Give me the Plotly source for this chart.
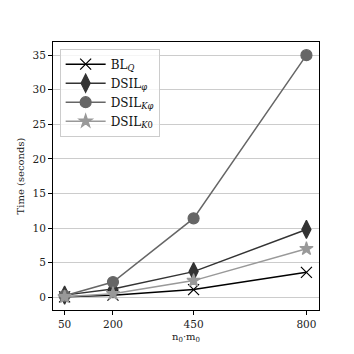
import plotly.graph_objs as go

# values
sizes = [50, 200, 450, 800]
bl_q = [0.05, 0.3, 1.1, 3.6]
dsil_phi = [0.3, 1.2, 3.7, 9.8]
dsil_kphi = [0.2, 2.2, 11.4, 35.0]
dsil_k0 = [0.05, 0.5, 2.4, 7.0]

series = [
    ("BL<sub><i>Q</i></sub>", bl_q, "#000000", "x-thin", 11),
    ("DSIL<sub><i>φ</i></sub>", dsil_phi, "#333333", "diamond-tall", 13),
    ("DSIL<sub><i>Kφ</i></sub>", dsil_kphi, "#666666", "circle", 11),
    ("DSIL<sub><i>K</i>0</sub>", dsil_k0, "#999999", "star", 10),
]

fig = go.Figure()
for name, vals, col, sym, sz in series:
    fig.add_trace(go.Scatter(
        x=sizes, y=vals, name=name, mode="lines+markers",
        line=dict(color=col, width=1.5),
        marker=dict(symbol=sym, size=sz, color=col,
                    line=dict(color=col, width=1.2)),
    ))

fig.update_layout(
    width=346, height=346,
    margin=dict(l=36, r=35, t=34, b=44),
    paper_bgcolor="white", plot_bgcolor="white",
    font=dict(family="DejaVu Serif", size=10.5, color="#222"),
    showlegend=True,
    legend=dict(x=0.025, y=0.975, xanchor="left", yanchor="top",
                bordercolor="#cccccc", borderwidth=1, bgcolor="rgba(255,255,255,0.8)",
                font=dict(size=12, color="#111"), tracegroupgap=0, itemwidth=40),
    xaxis=dict(tickvals=sizes, range=[14, 839], showgrid=False,
               showline=True, linecolor="black", mirror=True, ticks="outside",
               tickcolor="black", ticklen=4, zeroline=False,
               title=dict(text="n<sub>0</sub>·m<sub>0</sub>", standoff=4, font=dict(size=10))),
    yaxis=dict(tickvals=[0, 5, 10, 15, 20, 25, 30, 35], range=[-1.85, 36.9],
               showgrid=True, gridcolor="#cccccc", showline=True, linecolor="black",
               mirror=True, ticks="outside", tickcolor="black", ticklen=4, zeroline=False,
               title=dict(text="Time (seconds)", standoff=6, font=dict(size=10))),
)

fig.write_html("out.html")
